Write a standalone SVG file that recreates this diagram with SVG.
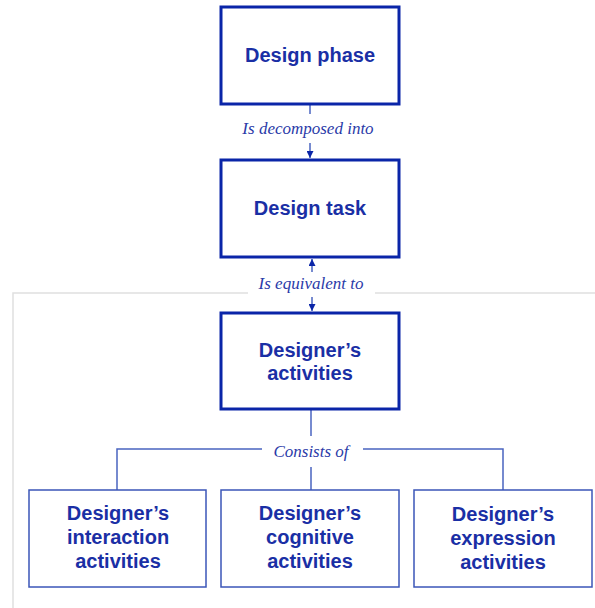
<svg xmlns="http://www.w3.org/2000/svg" width="595" height="608" viewBox="0 0 595 608">
<style>
.main{fill:#fff;stroke:#0a25a8;stroke-width:3}
.sub{fill:#fff;stroke:#3b56b8;stroke-width:1.5}
.t{font-family:"Liberation Sans",Arial,sans-serif;font-weight:bold;font-size:20px;fill:#1a2fa5;text-anchor:middle}
.lbl{font-family:"Liberation Serif","Times New Roman",serif;font-style:italic;font-size:17px;fill:#2a3aa8;text-anchor:middle}
.c{fill:none;stroke:#4a64c0;stroke-width:1.5}
.g{fill:none;stroke:#e0e0e0;stroke-width:1.5}
</style>
<defs>
<marker id="ah" viewBox="0 0 10 10" refX="10" refY="5" markerWidth="7" markerHeight="7" markerUnits="userSpaceOnUse" orient="auto">
<path d="M0,0 L10,5 L0,10 z" fill="#0a25a8"/>
</marker>
</defs>
<g id="connectors">
<path class="g" d="M248,293 H13 V608 M375,293 H595"/>
<path class="c" d="M310,105 V114"/>
<path class="c" d="M310,143 V158" marker-end="url(#ah)"/>
<path class="c" d="M312,272 V259" marker-end="url(#ah)"/>
<path class="c" d="M312,297 V311" marker-end="url(#ah)"/>
<path class="c" d="M311,410 V436"/>
<path class="c" d="M262,449 H117 V490 M363,449 H503 V490 M311,467 V490"/>
<text class="lbl" x="308" y="134">Is decomposed into</text>
<text class="lbl" x="311" y="289">Is equivalent to</text>
<text class="lbl" x="311" y="457">Consists of</text>
</g>
<g id="design-phase">
<rect class="main" x="221" y="7" width="178" height="97"/>
<text class="t" x="310" y="62">Design phase</text>
</g>
<g id="design-task">
<rect class="main" x="221" y="160" width="178" height="97"/>
<text class="t" x="310" y="215">Design task</text>
</g>
<g id="designers-activities">
<rect class="main" x="221" y="313" width="178" height="96"/>
<text class="t" x="310" y="357">Designer’s</text>
<text class="t" x="310" y="380">activities</text>
</g>
<g id="interaction">
<rect class="sub" x="29" y="490" width="177" height="97"/>
<text class="t" x="118" y="520">Designer’s</text>
<text class="t" x="118" y="544">interaction</text>
<text class="t" x="118" y="568">activities</text>
</g>
<g id="cognitive">
<rect class="sub" x="221" y="490" width="178" height="97"/>
<text class="t" x="310" y="520">Designer’s</text>
<text class="t" x="310" y="544">cognitive</text>
<text class="t" x="310" y="568">activities</text>
</g>
<g id="expression">
<rect class="sub" x="414" y="490" width="178" height="97"/>
<text class="t" x="503" y="521">Designer’s</text>
<text class="t" x="503" y="545">expression</text>
<text class="t" x="503" y="569">activities</text>
</g>
</svg>
